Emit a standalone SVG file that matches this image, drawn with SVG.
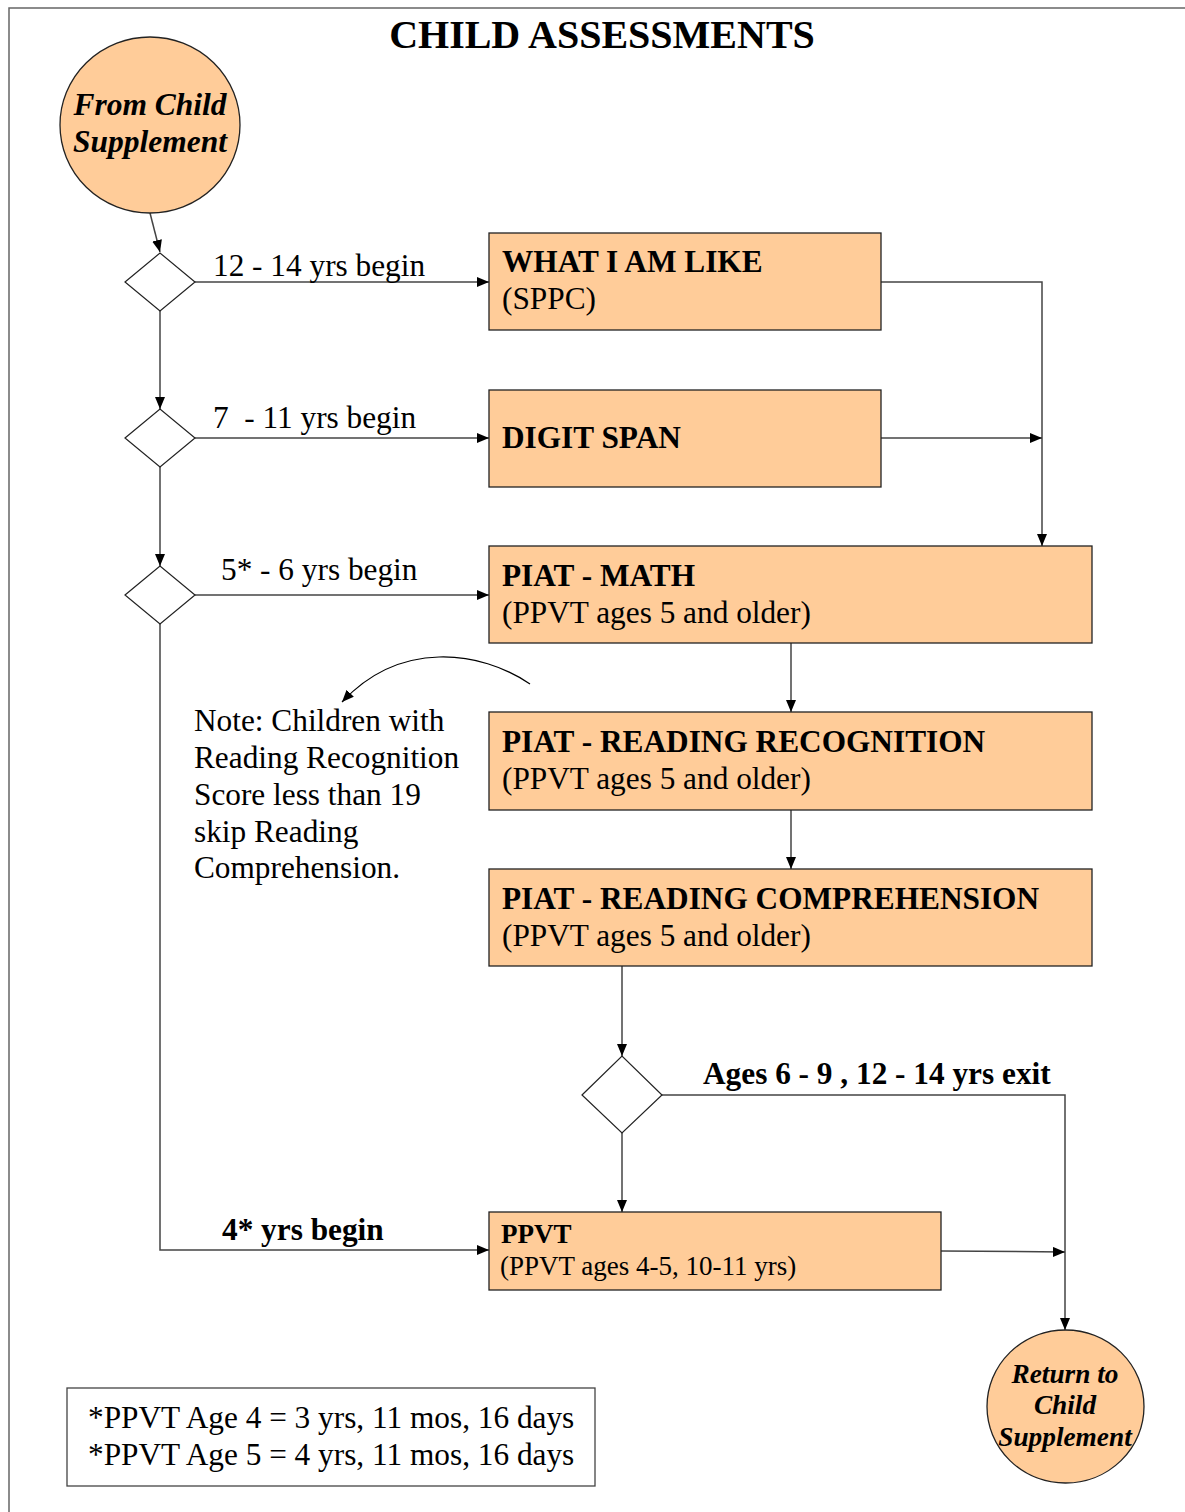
<svg xmlns="http://www.w3.org/2000/svg" width="1185" height="1512" viewBox="0 0 1185 1512">
<style>
text{font-family:"Liberation Serif","Times New Roman",serif;fill:#000}
.t{font-size:31.3px}
.b{font-size:31.3px;font-weight:bold}
.bi{font-weight:bold;font-style:italic;text-anchor:middle}
.box{fill:#FFCC99;stroke:#222;stroke-width:1.3}
.dia{fill:#fff;stroke:#222;stroke-width:1.2}
.circ{fill:#FFCC99;stroke:#222;stroke-width:1.3}
.c{fill:none;stroke:#444;stroke-width:1.5}
</style>
<defs>
<marker id="ah" markerWidth="12" markerHeight="10" refX="12" refY="5" orient="auto" markerUnits="userSpaceOnUse">
<path d="M0,0 L12,5 L0,10 Z" fill="#000"/>
</marker>
</defs>
<rect width="1185" height="1512" fill="#fff"/>
<path d="M9,1512 V8 H1185" fill="none" stroke="#666" stroke-width="1.5"/>
<text x="602" y="48" text-anchor="middle" style="font-size:40px;font-weight:bold">CHILD ASSESSMENTS</text>

<g id="connectors">
<path class="c" d="M150,213 L160,252" marker-end="url(#ah)"/>
<path class="c" d="M195,282 H489" marker-end="url(#ah)"/>
<path class="c" d="M160,311 V409" marker-end="url(#ah)"/>
<path class="c" d="M195,438 H489" marker-end="url(#ah)"/>
<path class="c" d="M160,467 V566" marker-end="url(#ah)"/>
<path class="c" d="M195,595 H489" marker-end="url(#ah)"/>
<path class="c" d="M160,624 V1250 H489" marker-end="url(#ah)"/>
<path class="c" d="M881,282 H1042 V546" marker-end="url(#ah)"/>
<path class="c" d="M881,438 H1042" marker-end="url(#ah)"/>
<path class="c" d="M791,643 V712" marker-end="url(#ah)"/>
<path class="c" d="M791,810 V869" marker-end="url(#ah)"/>
<path class="c" d="M622,966 V1056" marker-end="url(#ah)"/>
<path class="c" d="M622,1133 V1212" marker-end="url(#ah)"/>
<path class="c" d="M662,1095 H1065 V1330" marker-end="url(#ah)"/>
<path class="c" d="M941,1251 L1065,1252" marker-end="url(#ah)"/>
<path d="M530,684 C480,650 400,640 342,702" fill="none" stroke="#000" stroke-width="1.2" marker-end="url(#ah)"/>
<text class="t" x="213" y="276">12 - 14 yrs begin</text>
<text class="t" x="213" y="428" xml:space="preserve">7  - 11 yrs begin</text>
<text class="t" x="221" y="580">5* - 6 yrs begin</text>
<text class="b" x="222" y="1240">4* yrs begin</text>
<text class="b" x="703" y="1084">Ages 6 - 9 , 12 - 14 yrs exit</text>
</g>

<g id="start">
<ellipse class="circ" cx="150" cy="125" rx="90" ry="88"/>
<text class="bi" x="150" y="115" font-size="31.5">From Child</text>
<text class="bi" x="150" y="152" font-size="31.5">Supplement</text>
</g>

<g id="d1"><polygon class="dia" points="125,282 160,253 195,282 160,311"/></g>
<g id="d2"><polygon class="dia" points="125,438 160,409 195,438 160,467"/></g>
<g id="d3"><polygon class="dia" points="125,595 160,566 195,595 160,624"/></g>
<g id="d4"><polygon class="dia" points="582,1095 622,1056 662,1095 622,1133"/></g>

<g id="whatiamlike">
<rect class="box" x="489" y="233" width="392" height="97"/>
<text class="b" x="502" y="272">WHAT I AM LIKE</text>
<text class="t" x="502" y="309">(SPPC)</text>
</g>
<g id="digitspan">
<rect class="box" x="489" y="390" width="392" height="97"/>
<text class="b" x="502" y="448">DIGIT SPAN</text>
</g>
<g id="piatmath">
<rect class="box" x="489" y="546" width="603" height="97"/>
<text class="b" x="502" y="586">PIAT - MATH</text>
<text class="t" x="502" y="623">(PPVT ages 5 and older)</text>
</g>
<g id="piatrr">
<rect class="box" x="489" y="712" width="603" height="98"/>
<text class="b" x="502" y="752">PIAT - READING RECOGNITION</text>
<text class="t" x="502" y="789">(PPVT ages 5 and older)</text>
</g>
<g id="piatrc">
<rect class="box" x="489" y="869" width="603" height="97"/>
<text class="b" x="502" y="909">PIAT - READING COMPREHENSION</text>
<text class="t" x="502" y="946">(PPVT ages 5 and older)</text>
</g>
<g id="ppvt">
<rect class="box" x="489" y="1212" width="452" height="78"/>
<text x="501" y="1243" style="font-size:27px;font-weight:bold">PPVT</text>
<text x="500" y="1275" style="font-size:27px">(PPVT ages 4-5, 10-11 yrs)</text>
</g>

<g id="note">
<text class="t" x="194" y="731">Note: Children with</text>
<text class="t" x="194" y="768">Reading Recognition</text>
<text class="t" x="194" y="805">Score less than 19</text>
<text class="t" x="194" y="842">skip Reading</text>
<text class="t" x="194" y="878">Comprehension.</text>
</g>

<g id="return">
<ellipse class="circ" cx="1065.5" cy="1406.5" rx="78.5" ry="76.5"/>
<text class="bi" x="1065" y="1383" font-size="27.3">Return to</text>
<text class="bi" x="1065" y="1414" font-size="27.3">Child</text>
<text class="bi" x="1065" y="1446" font-size="27.3">Supplement</text>
</g>

<g id="legend">
<rect x="67" y="1388" width="528" height="98" fill="#fff" stroke="#444" stroke-width="1.3"/>
<text class="t" x="88" y="1428">*PPVT Age 4 = 3 yrs, 11 mos, 16 days</text>
<text class="t" x="88" y="1465">*PPVT Age 5 = 4 yrs, 11 mos, 16 days</text>
</g>
</svg>
